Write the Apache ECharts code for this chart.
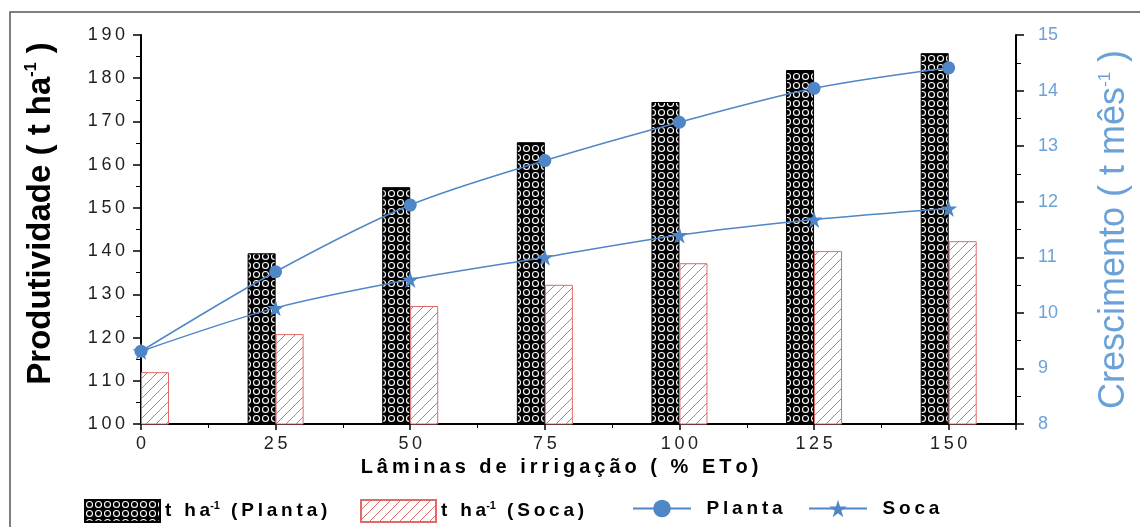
<!DOCTYPE html>
<html>
<head>
<meta charset="utf-8">
<script src="https://cdn.jsdelivr.net/npm/echarts@6/dist/echarts.min.js"></script>
<style>
  html, body { margin: 0; padding: 0; background: #fff; }
  #chart { width: 1140px; height: 527px; }
</style>
</head>
<body>
<div id="chart"></div>
<script>
  // lâminas de irrigação (% ETo)
  const laminas = [0, 25, 50, 75, 100, 125, 150];
  // produtividade, t ha-1
  const prodPlanta = [null, 139.5, 154.8, 165.2, 174.5, 181.9, 185.8];
  const prodSoca = [112.0, 120.8, 127.3, 132.2, 137.2, 140.0, 142.3];
  // crescimento, t mês-1
  const crescPlanta = [9.31, 10.74, 11.94, 12.74, 13.43, 14.04, 14.41];
  const crescSoca = [9.31, 10.09, 10.6, 11.0, 11.4, 11.68, 11.88];

  const blue = '#4f86c6';
  const lightBlue = '#6aa2d8';
  const red = '#e06a6a';

  // espaçamento entre letras (como no original)
  const spaced = (s) => String(s).split('').join('\u2009');

  // padrão preto com círculos brancos
  function dotPattern() {
    const c = document.createElement('canvas');
    c.width = 9; c.height = 9;
    const g = c.getContext('2d');
    g.fillStyle = '#000';
    g.fillRect(0, 0, 9, 9);
    g.strokeStyle = '#fff';
    g.lineWidth = 1.1;
    g.beginPath();
    g.arc(4.5, 4.5, 3, 0, Math.PI * 2);
    g.stroke();
    return { image: c, repeat: 'repeat' };
  }

  // hachura vermelha
  function hatchPattern() {
    const c = document.createElement('canvas');
    c.width = 10; c.height = 10;
    const g = c.getContext('2d');
    g.fillStyle = '#fff';
    g.fillRect(0, 0, 10, 10);
    g.strokeStyle = red;
    g.lineWidth = 1;
    g.beginPath();
    g.moveTo(0, 10); g.lineTo(10, 0);
    g.moveTo(-5, 5); g.lineTo(5, -5);
    g.moveTo(5, 15); g.lineTo(15, 5);
    g.stroke();
    return { image: c, repeat: 'repeat' };
  }

  const star = 'path://M50,0 L61,35 L98,35 L68,57 L79,91 L50,70 L21,91 L32,57 L2,35 L39,35 Z';

  const font = 'Liberation Sans, Arial, sans-serif';
  const supRich = {
    a: { fontFamily: font, fontWeight: 'bold', fontSize: 33, color: '#000' },
    s: { fontFamily: font, fontWeight: 'bold', fontSize: 16, color: '#000', padding: [0, 0, 17, 0] },
    b: { fontFamily: font, fontSize: 36, color: lightBlue },
    t: { fontFamily: font, fontSize: 17, color: lightBlue, padding: [0, 0, 18, 0] },
  };
  const legRich = {
    a: { fontFamily: font, fontWeight: 'bold', fontSize: 19, color: '#000' },
    s: { fontFamily: font, fontWeight: 'bold', fontSize: 11, color: '#000', padding: [0, 2, 11, 0] },
  };

  const chart = echarts.init(document.getElementById('chart'));

  const option = {
    backgroundColor: '#fff',
    animation: false,
    grid: { left: 141, right: 121, top: 35, bottom: 103 },
    graphic: [{
      type: 'rect',
      shape: { x: 10, y: 12, width: 1140, height: 530 },
      style: { fill: 'none', stroke: '#555', lineWidth: 1.5 },
      silent: true,
    }],
    legend: [
      { data: ['Planta_bar'], left: 79, top: 494 },
      { data: ['Soca_bar'], left: 355, top: 494 },
      { data: ['Planta'], left: 627, top: 494 },
      { data: ['Soca'], left: 803, top: 494 },
    ].map((l) => Object.assign({
      orient: 'horizontal',
      icon: l.data[0].endsWith('_bar') ? 'rect' : undefined,
      itemWidth: l.data[0].endsWith('_bar') ? 75 : 58,
      itemHeight: 22,
      itemGap: 4,
      textStyle: { rich: legRich, fontFamily: font },
      formatter: (n) => {
        if (n === 'Planta_bar') return '{a|' + spaced('t ha') + '}{s|-1}{a|' + spaced(' (Planta)') + '}';
        if (n === 'Soca_bar') return '{a|' + spaced('t ha') + '}{s|-1}{a|' + spaced(' (Soca)') + '}';
        return '{a|  ' + spaced(n) + '}';
      },
    }, l)),
    xAxis: {
      type: 'value',
      min: 0,
      max: 162.5,
      interval: 25,
      name: spaced('Lâminas de irrigação ( % ETo)'),
      nameLocation: 'middle',
      nameGap: 33,
      nameTextStyle: { fontFamily: font, fontWeight: 'bold', fontSize: 20, color: '#000', padding: [0, 38, 0, 0] },
      axisLine: { lineStyle: { color: '#000', width: 2 } },
      axisTick: { show: true, length: 6, lineStyle: { color: '#000', width: 1.5 } },
      minorTick: { show: true, splitNumber: 2, length: 4, lineStyle: { color: '#000' } },
      splitLine: { show: false },
      axisLabel: {
        showMaxLabel: false,
        margin: 11,
        fontFamily: font,
        fontSize: 18,
        color: '#222',
        formatter: (v) => (v % 25 === 0 ? spaced(v) : ''),
      },
    },
    yAxis: [
      {
        type: 'value',
        min: 100,
        max: 190,
        interval: 10,
        name: '{a|Produtividade ( t ha}{s|-1}{a| )}',
        nameLocation: 'middle',
        nameGap: 84,
        nameTextStyle: { rich: supRich, padding: [0, 0, 0, 32] },
        axisLine: { show: true, lineStyle: { color: '#000', width: 2 } },
        axisTick: { show: true, length: 8, lineStyle: { color: '#000', width: 1.5 } },
        minorTick: { show: true, splitNumber: 2, length: 5, lineStyle: { color: '#000' } },
        splitLine: { show: false },
        axisLabel: {
          margin: 16,
          fontFamily: font,
          fontSize: 18,
          color: '#222',
          formatter: (v) => spaced(v),
        },
      },
      {
        type: 'value',
        min: 8,
        max: 15,
        interval: 1,
        position: 'right',
        name: '{b|Crescimento ( t mês}{t|-1}{b| )}',
        nameLocation: 'middle',
        nameGap: 80,
        nameRotate: 90,
        nameTextStyle: { rich: supRich },
        axisLine: { show: true, lineStyle: { color: '#000', width: 2 } },
        axisTick: { show: true, length: 8, lineStyle: { color: '#000', width: 1.5 } },
        minorTick: { show: true, splitNumber: 2, length: 5, lineStyle: { color: '#000' } },
        splitLine: { show: false },
        axisLabel: {
          margin: 22,
          fontFamily: font,
          fontSize: 18,
          color: lightBlue,
        },
      },
    ],
    series: [
      {
        name: 'Planta_bar',
        type: 'bar',
        barWidth: 28,
        barGap: '0%',
        data: laminas.map((x, i) => [x, prodPlanta[i]]),
        itemStyle: { color: dotPattern(), borderColor: '#000', borderWidth: 1 },
      },
      {
        name: 'Soca_bar',
        type: 'bar',
        barWidth: 28,
        barGap: '0%',
        data: laminas.map((x, i) => [x, prodSoca[i]]),
        itemStyle: { color: hatchPattern(), borderColor: red, borderWidth: 1 },
      },
      {
        name: 'Planta',
        type: 'line',
        yAxisIndex: 1,
        smooth: 0.3,
        symbol: 'circle',
        symbolSize: 13,
        data: laminas.map((x, i) => [x, crescPlanta[i]]),
        lineStyle: { color: blue, width: 1.5 },
        itemStyle: { color: blue },
        z: 5,
      },
      {
        name: 'Soca',
        type: 'line',
        yAxisIndex: 1,
        smooth: 0.3,
        symbol: star,
        symbolSize: 17,
        data: laminas.map((x, i) => [x, crescSoca[i]]),
        lineStyle: { color: blue, width: 1.5 },
        itemStyle: { color: blue },
        z: 5,
      },
    ],
  };

  chart.setOption(option);
</script>
</body>
</html>
